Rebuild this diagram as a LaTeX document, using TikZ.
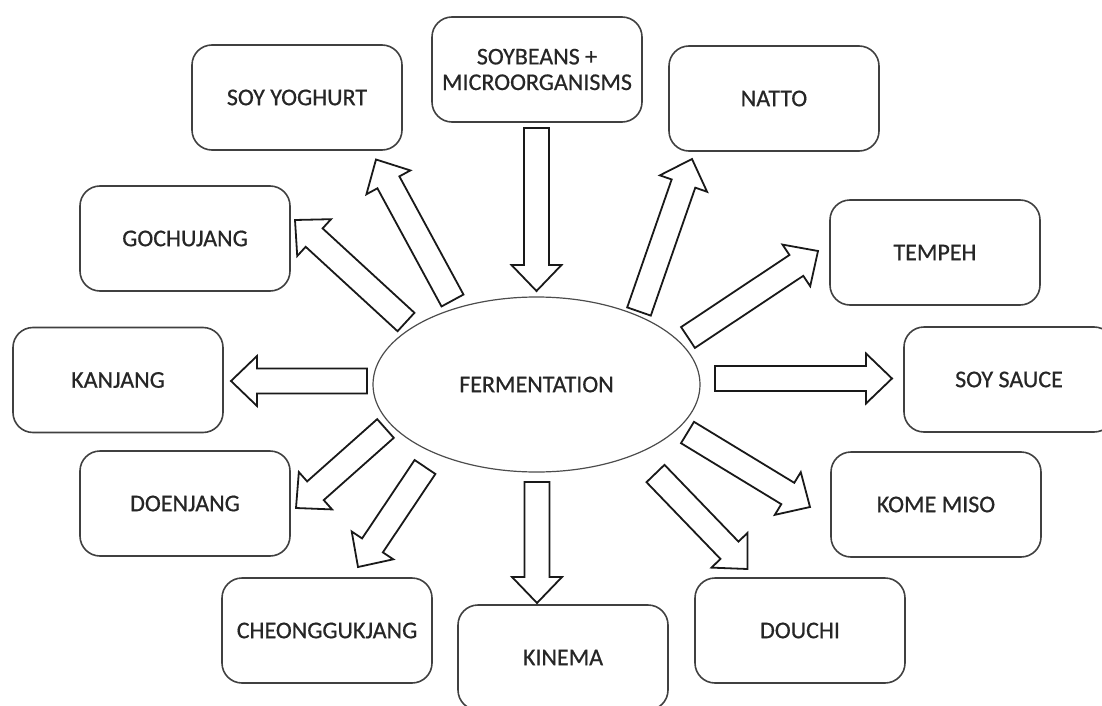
\documentclass[tikz,border=0pt]{standalone}
\usepackage{fontspec}
\setmainfont{Carlito}
\newfontfamily\labelfont{Carlito}[FakeBold=0.6]
\usetikzlibrary{calc,shapes.geometric}

% hollow block arrow from #1 to #2
\newcommand{\fatarrow}[2]{%
  \draw[hollow] ($(#1)!6.25pt!90:(#2)$)
    -- ($(#2)!13pt!(#1)!6.25pt!90:(#2)$)
    -- ($(#2)!13pt!(#1)!12.5pt!90:(#2)$)
    -- (#2)
    -- ($(#2)!13pt!(#1)!12.5pt!-90:(#2)$)
    -- ($(#2)!13pt!(#1)!6.25pt!-90:(#2)$)
    -- ($(#1)!6.25pt!-90:(#2)$) -- cycle;}

\begin{document}
\begin{tikzpicture}[
  x=0.5pt, y=-0.5pt,
  font=\labelfont\fontsize{12pt}{12.8pt}\selectfont,
  text=black!85,
  product/.style={
    draw=black!75,
    line width=0.8pt,
    rounded corners=10pt,
    minimum width=105pt,
    minimum height=52.5pt,
    align=center
  },
  process/.style={
    ellipse,
    draw=black!70,
    line width=0.6pt,
    minimum width=163.5pt,
    minimum height=87.5pt,
    inner sep=0pt
  },
  hollow/.style={draw=black!90, line width=0.9pt, fill=white, line join=miter}
]
\useasboundingbox (0,0) rectangle (1102,706);

% Centre of the figure.
\node[process] (ferm) at (536.5,384.5) {FERMENTATION};

% Input and products around it.
\node[product] (soy) at (537,69.5) {SOYBEANS +\\MICROORGANISMS};
\node[product] (yog) at (297,97.5) {SOY YOGHURT};
\node[product] (natto) at (774,98.5) {NATTO};
\node[product] (goch) at (185,238.5) {GOCHUJANG};
\node[product] (tempeh) at (935,252.5) {TEMPEH};
\node[product] (kanj) at (118,380) {KANJANG};
\node[product] (sauce) at (1009,379.5) {SOY SAUCE};
\node[product] (doen) at (185,503.5) {DOENJANG};
\node[product] (kome) at (936,504.5) {KOME MISO};
\node[product] (cheong) at (327,630.5) {CHEONGGUKJANG};
\node[product] (kinema) at (563,657.5) {KINEMA};
\node[product] (douchi) at (800,630.5) {DOUCHI};

% Arrow ends, next to the ellipse and the boxes.
\coordinate (soy-a) at (536.5,128);    \coordinate (soy-b) at (536.5,291);
\coordinate (yog-a) at (452.5,300.5);  \coordinate (yog-b) at (376,159.5);
\coordinate (goch-a) at (406,322);     \coordinate (goch-b) at (295,220);
\coordinate (kanj-a) at (367,381);     \coordinate (kanj-b) at (231,381);
\coordinate (doen-a) at (385.5,428.5); \coordinate (doen-b) at (296,508);
\coordinate (cheong-a) at (425,467);   \coordinate (cheong-b) at (358,567);
\coordinate (kinema-a) at (537,482);   \coordinate (kinema-b) at (537,603);
\coordinate (douchi-a) at (655.5,473.5); \coordinate (douchi-b) at (747.5,569);
\coordinate (kome-a) at (687.5,432.5); \coordinate (kome-b) at (810,507);
\coordinate (sauce-a) at (715,378.5);  \coordinate (sauce-b) at (892,378.5);
\coordinate (tempeh-a) at (688,337.5); \coordinate (tempeh-b) at (818,251);
\coordinate (natto-a) at (639,311.5);  \coordinate (natto-b) at (692,159);

\fatarrow{soy-a}{soy-b}
\fatarrow{yog-a}{yog-b}
\fatarrow{goch-a}{goch-b}
\fatarrow{kanj-a}{kanj-b}
\fatarrow{doen-a}{doen-b}
\fatarrow{cheong-a}{cheong-b}
\fatarrow{kinema-a}{kinema-b}
\fatarrow{douchi-a}{douchi-b}
\fatarrow{kome-a}{kome-b}
\fatarrow{sauce-a}{sauce-b}
\fatarrow{tempeh-a}{tempeh-b}
\fatarrow{natto-a}{natto-b}

\end{tikzpicture}
\end{document}
